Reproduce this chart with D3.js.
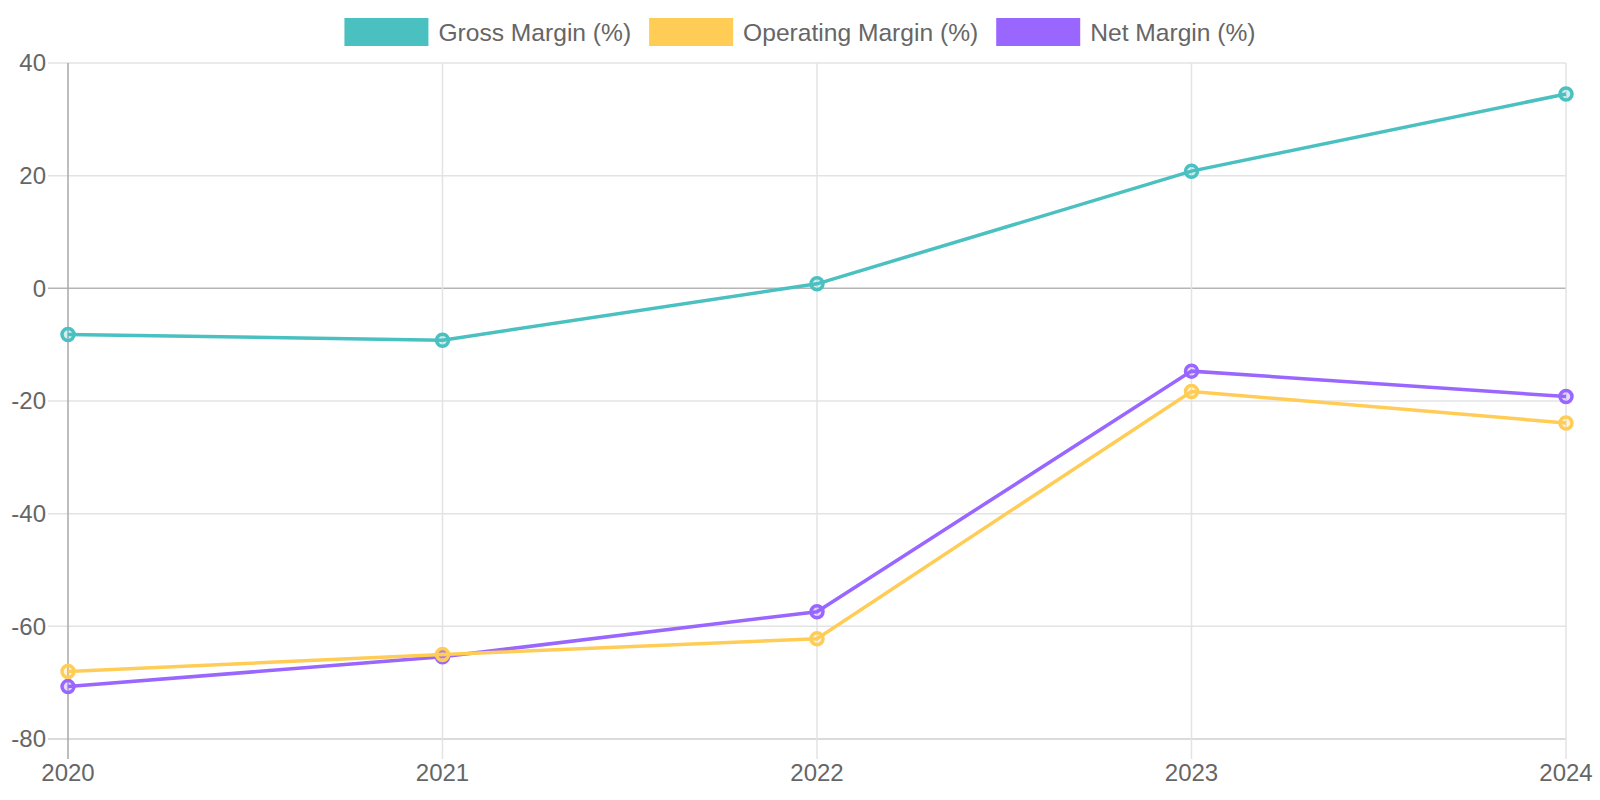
<!DOCTYPE html>
<html>
<head>
<meta charset="utf-8">
<script src="https://cdn.jsdelivr.net/npm/d3@7"></script>
<style>
  body { margin: 0; background: #fff; }
  svg { display: block; font-family: "Liberation Sans", Arial, sans-serif; }
</style>
</head>
<body>
<script>
const years = ['2020', '2021', '2022', '2023', '2024'];
const grossMargin = [-8.2, -9.2, 0.8, 20.8, 34.5];
const operatingMargin = [-68.0, -65.0, -62.2, -18.3, -23.9];
const netMargin = [-70.7, -65.4, -57.4, -14.7, -19.2];
const yTicks = [-80, -60, -40, -20, 0, 20, 40];

const series = [
  { name: 'Gross Margin (%)', values: grossMargin, color: '#4bc0c0', fill: 'rgba(75,192,192,0.25)' },
  { name: 'Operating Margin (%)', values: operatingMargin, color: '#ffcd56', fill: 'rgba(255,205,86,0.25)' },
  { name: 'Net Margin (%)', values: netMargin, color: '#9966ff', fill: 'rgba(153,102,255,0.25)' }
];

const width = 1600, height = 800;
const margin = { top: 63, right: 34, bottom: 61, left: 68 };

const svg = d3.select('body').append('svg')
  .attr('width', width)
  .attr('height', height);

const x = d3.scalePoint()
  .domain(years)
  .range([margin.left, width - margin.right]);

const y = d3.scaleLinear()
  .domain([-80, 40])
  .range([height - margin.bottom, margin.top]);

// grid lines
const grid = svg.append('g');
grid.selectAll('line.h')
  .data(yTicks)
  .enter().append('line')
  .attr('x1', margin.left - 20)
  .attr('x2', width - margin.right)
  .attr('y1', d => y(d))
  .attr('y2', d => y(d))
  .attr('stroke', d => d === 0 ? '#b5b5b5' : (d === -80 ? '#cfcfcf' : '#e3e3e3'))
  .attr('stroke-width', 1.5);

grid.selectAll('line.v')
  .data(years)
  .enter().append('line')
  .attr('x1', d => x(d))
  .attr('x2', d => x(d))
  .attr('y1', margin.top)
  .attr('y2', height - margin.bottom + 20)
  .attr('stroke', (d, i) => i === 0 ? '#a8a8a8' : '#e3e3e3')
  .attr('stroke-width', 1.5);

// tick labels
svg.append('g').selectAll('text')
  .data(yTicks)
  .enter().append('text')
  .attr('x', margin.left - 22)
  .attr('y', d => y(d))
  .attr('dy', '0.35em')
  .attr('text-anchor', 'end')
  .attr('font-size', 24)
  .attr('fill', '#666')
  .text(d => d);

svg.append('g').selectAll('text')
  .data(years)
  .enter().append('text')
  .attr('x', d => x(d))
  .attr('y', height - margin.bottom + 34)
  .attr('dy', '0.35em')
  .attr('text-anchor', 'middle')
  .attr('font-size', 24)
  .attr('fill', '#666')
  .text(d => d);

// lines, last dataset drawn first
const line = d3.line()
  .x((d, i) => x(years[i]))
  .y(d => y(d));

series.slice().reverse().forEach(s => {
  let g = svg.append('g');
  g.append('path')
    .datum(s.values)
    .attr('d', line)
    .attr('fill', 'none')
    .attr('stroke', s.color)
    .attr('stroke-width', 3.5);
  g.selectAll('circle')
    .data(s.values)
    .enter().append('circle')
    .attr('cx', (d, i) => x(years[i]))
    .attr('cy', d => y(d))
    .attr('r', 6)
    .attr('fill', s.fill)
    .attr('stroke', s.color)
    .attr('stroke-width', 3.5);
});

// legend
const legend = svg.append('g');
const boxW = 84, boxH = 28, gap = 10, itemGap = 18;
let items = series.map(s => {
  let t = legend.append('text')
    .attr('font-size', 24.6)
    .attr('fill', '#666')
    .attr('dy', '0.35em')
    .attr('y', 32)
    .text(s.name);
  return { s: s, t: t, w: t.node().getComputedTextLength() };
});
let total = d3.sum(items, d => boxW + gap + d.w) + itemGap * (items.length - 1);
let cx = (width - total) / 2;
items.forEach(d => {
  legend.append('rect')
    .attr('x', cx)
    .attr('y', 18)
    .attr('width', boxW)
    .attr('height', boxH)
    .attr('fill', d.s.color);
  d.t.attr('x', cx + boxW + gap);
  cx += boxW + gap + d.w + itemGap;
});
</script>
</body>
</html>
